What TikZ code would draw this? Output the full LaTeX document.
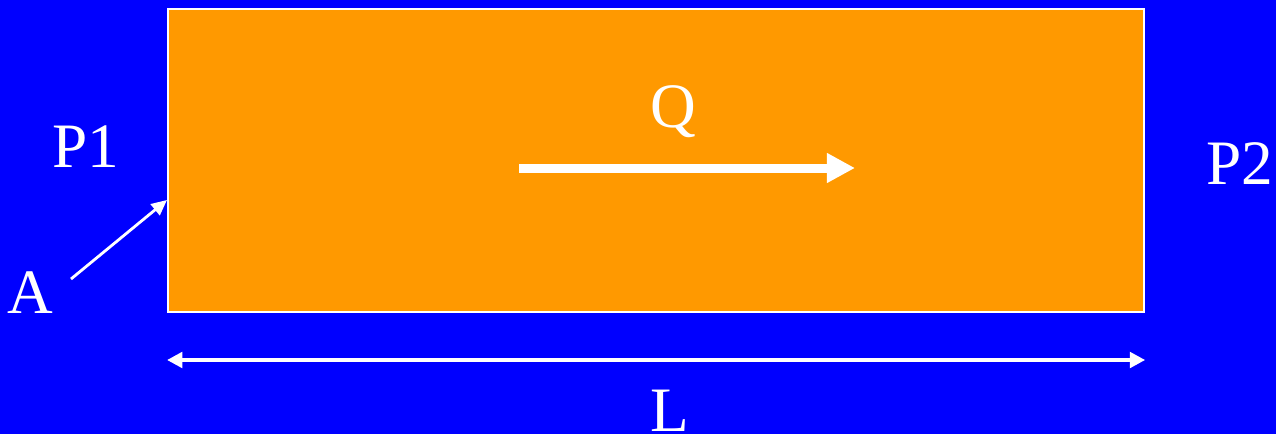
\documentclass[tikz,border=0pt]{standalone}
\usepackage{fontspec}
\setmainfont{Liberation Serif}
\usetikzlibrary{arrows.meta}
\definecolor{BgBlue}{HTML}{0000FF}
\definecolor{PipeOrange}{HTML}{FF9900}

\begin{document}
\begin{tikzpicture}[x=0.025cm,y=-0.025cm,
  every node/.style={font=\fontsize{45}{54}\selectfont,text=white,inner sep=0pt},
  lbl/.style={anchor=base}]
\fill[BgBlue] (0,0) rectangle (1276,434);
\useasboundingbox (0,0) rectangle (1276,434);
\node[draw=white,line width=1.4pt,fill=PipeOrange,anchor=north west,minimum width=24.4cm,minimum height=7.575cm] (pipe) at (167,8) {};
\node[lbl] (p1) at (86,167) {P1};
\node[lbl] (p2) at (1240,184) {P2};
\node[lbl] (q) at (673,127) {Q};
\node[lbl] (a) at (30,313) {A};
\node[lbl] (l) at (670,431) {L};
\coordinate (qs) at (519,168);
\coordinate (qe) at (855,168);
\coordinate (as) at (71,279);
\coordinate (ae) at (pipe.west |- 0,200);
\coordinate (ls) at (pipe.west |- 0,360);
\coordinate (le) at (pipe.east |- 0,360);
\draw[white,line width=6.4pt,-{Triangle[length=20pt,width=20pt]}] (qs) -- (qe);
\draw[white,line width=2pt,-{Triangle[length=11pt,width=10pt]}] (as) -- (ae);
\draw[white,line width=3pt,{Triangle[length=11pt,width=11pt]}-{Triangle[length=11pt,width=11pt]}] (ls) -- (le);
\end{tikzpicture}
\end{document}
